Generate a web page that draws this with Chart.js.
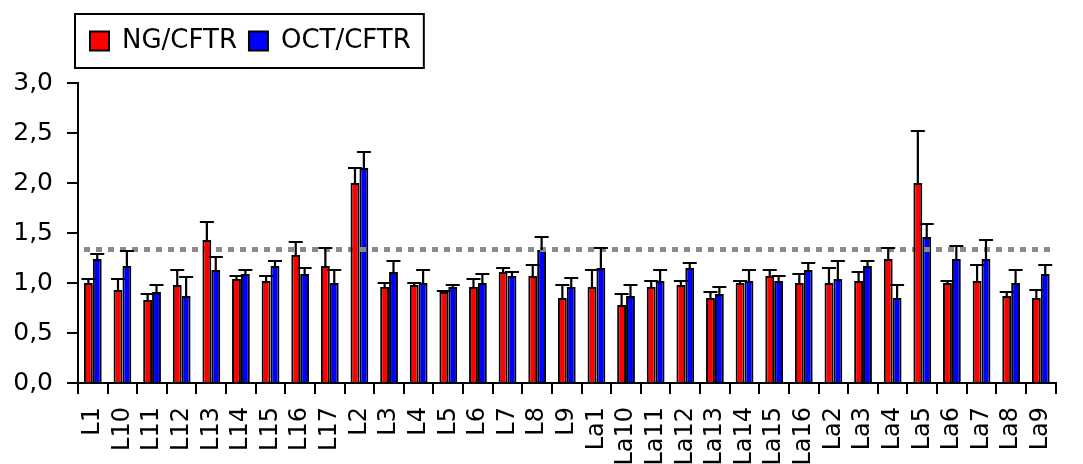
<!DOCTYPE html>
<html>
<head>
<meta charset="utf-8">
<script src="https://cdn.jsdelivr.net/npm/chart.js@4"></script>
<style>
  body { margin: 0; background: #fff; }
  #wrap { width: 1083px; height: 464px; }
</style>
</head>
<body>
<div id="wrap"><canvas id="myChart"></canvas></div>
<script>
// lines
const labels = ['L1','L10','L11','L12','L13','L14','L15','L16','L17','L2','L3','L4','L5','L6','L7','L8','L9',
  'La1','La10','La11','La12','La13','La14','La15','La16','La2','La3','La4','La5','La6','La7','La8','La9'];

// NG/CFTR
const ngValues = [1.00,0.93,0.83,0.98,1.43,1.04,1.02,1.28,1.17,2.00,0.96,0.98,0.91,0.96,1.11,1.07,0.85,
  0.96,0.78,0.96,0.98,0.85,1.00,1.07,1.00,1.00,1.02,1.24,2.00,1.00,1.02,0.87,0.85];
const ngErrors = [0.04,0.11,0.06,0.15,0.18,0.03,0.05,0.13,0.18,0.15,0.04,0.02,0.01,0.08,0.04,0.11,0.13,
  0.17,0.11,0.06,0.04,0.06,0.02,0.06,0.09,0.15,0.09,0.11,0.52,0.02,0.16,0.04,0.08];

// OCT/CFTR
const octValues = [1.24,1.17,0.91,0.87,1.13,1.09,1.17,1.09,1.00,2.15,1.11,1.00,0.96,1.00,1.07,1.33,0.96,
  1.15,0.87,1.02,1.15,0.89,1.02,1.02,1.13,1.04,1.17,0.85,1.46,1.24,1.24,1.00,1.09];
const octErrors = [0.05,0.15,0.07,0.19,0.13,0.04,0.05,0.06,0.13,0.16,0.11,0.13,0.02,0.09,0.04,0.13,0.09,
  0.20,0.11,0.11,0.05,0.07,0.11,0.05,0.07,0.18,0.05,0.13,0.13,0.13,0.19,0.13,0.09];

const threshold = 1.335;
const yTicks = [0, 0.5, 1, 1.5, 2, 2.5, 3];

const FONT = 'DejaVu Sans';

// error bars, only the upper half
const errorBars = {
  id: 'errorBars',
  afterDatasetsDraw(chart) {
    const ctx = chart.ctx;
    const y = chart.scales.y;
    ctx.save();
    ctx.strokeStyle = '#000';
    ctx.lineWidth = 2.2;
    chart.data.datasets.forEach((ds, i) => {
      const meta = chart.getDatasetMeta(i);
      meta.data.forEach((bar, j) => {
        const top = y.getPixelForValue(ds.data[j] + ds.errors[j]);
        ctx.beginPath();
        ctx.moveTo(bar.x, bar.y);
        ctx.lineTo(bar.x, top);
        ctx.moveTo(bar.x - 7, top);
        ctx.lineTo(bar.x + 7, top);
        ctx.stroke();
      });
    });
    ctx.restore();
  }
};

// grey dotted reference line, drawn under the error bars
const refLine = {
  id: 'refLine',
  afterDatasetDraw(chart, args) {
    if (args.index !== chart.data.datasets.length - 1) return;
    const ctx = chart.ctx;
    const area = chart.chartArea;
    const yy = chart.scales.y.getPixelForValue(threshold);
    ctx.save();
    ctx.strokeStyle = '#8a8a8a';
    ctx.lineWidth = 5;
    ctx.setLineDash([6, 6]);
    ctx.beginPath();
    ctx.moveTo(area.left + 6, yy);
    ctx.lineTo(area.right, yy);
    ctx.stroke();
    ctx.restore();
  }
};

// more room under the legend + frame round it
const legendBox = {
  id: 'legendBox',
  beforeLayout(chart) {
    const lg = chart.legend;
    if (lg && !lg._patched) {
      const fit = lg.fit;
      lg.fit = function () { fit.call(this); this.height += 19; };
      lg._patched = true;
    }
  },
  afterDraw(chart) {
    const hb = chart.legend.legendHitBoxes;
    if (!hb || !hb.length) return;
    const first = hb[0], last = hb[hb.length - 1];
    const cy = first.top + first.height / 2;
    const ctx = chart.ctx;
    ctx.save();
    ctx.strokeStyle = '#000';
    ctx.lineWidth = 2;
    ctx.strokeRect(first.left - 15, cy - 27, last.left + last.width - first.left + 28, 54);
    ctx.restore();
  }
};

window.onload = () => {

const data = {
  labels: labels,
  datasets: [{
    label: 'NG/CFTR',
    data: ngValues,
    errors: ngErrors,
    backgroundColor: '#ff0000',
    borderColor: '#000',
    borderWidth: 2
  },
  {
    label: 'OCT/CFTR',
    data: octValues,
    errors: octErrors,
    backgroundColor: '#0000ff',
    borderColor: '#000',
    borderWidth: 2
  }]
};

new Chart(document.getElementById('myChart'), {
  type: 'bar',
  data,
  plugins: [refLine, errorBars, legendBox],
  options: {
    responsive: true,
    maintainAspectRatio: false,
    animation: false,
    datasets: { bar: { barPercentage: 1, categoryPercentage: 0.6 } },
    layout: { padding: { top: 16, left: 0, right: 0, bottom: 0 } },
    plugins: {
      tooltip: { enabled: false },
      legend: {
        position: 'top',
        align: 'start',
        fullSize: false,
        labels: {
          boxWidth: 19,
          boxHeight: 19,
          padding: 12,
          color: '#000',
          font: { family: FONT, size: 26 }
        }
      }
    },
    scales: {
      x: {
        grid: { drawOnChartArea: false, offset: true, color: '#000', lineWidth: 2, tickLength: 11 },
        border: { color: '#000', width: 2 },
        ticks: {
          color: '#000',
          font: { family: FONT, size: 24 },
          maxRotation: 90,
          minRotation: 90,
          autoSkip: false,
          padding: 13
        },
        afterFit(scale) { scale.height = 81; }
      },
      y: {
        min: 0,
        max: 3,
        afterBuildTicks(scale) { scale.ticks = yTicks.map(v => ({ value: v })); },
        grid: { drawOnChartArea: false, color: '#000', lineWidth: 2, tickLength: 11 },
        border: { color: '#000', width: 2 },
        ticks: {
          color: '#000',
          font: { family: FONT, size: 25 },
          padding: 14,
          callback: v => v.toFixed(1).replace('.', ',')
        },
        afterFit(scale) { scale.width = 78; }
      }
    }
  }
});

};
</script>
</body>
</html>
